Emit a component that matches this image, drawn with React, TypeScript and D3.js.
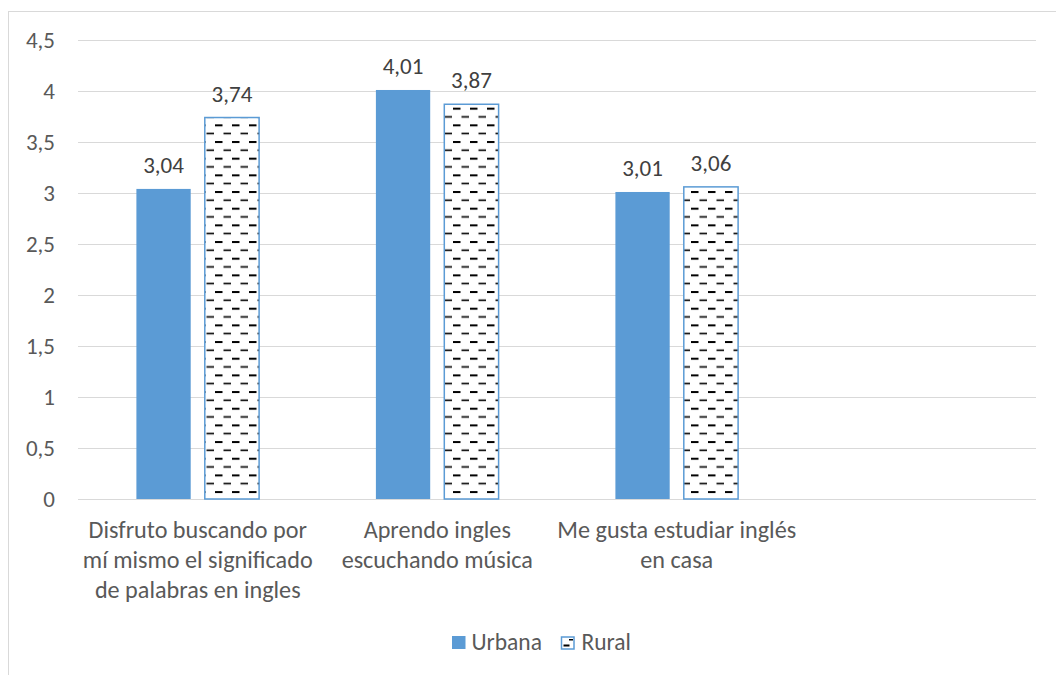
import { useRef, useEffect } from "react"
import * as d3 from "d3"

const categories = [
  ["Disfruto buscando por", "mí mismo el significado", "de palabras en ingles"],
  ["Aprendo ingles", "escuchando música"],
  ["Me gusta estudiar inglés", "en casa"],
  [""],
]
const urbana = [3.04, 4.01, 3.01, null]
const rural = [3.74, 3.87, 3.06, null]
const yTicks = [0, 0.5, 1, 1.5, 2, 2.5, 3, 3.5, 4, 4.5]

const FONT = "Carlito, Calibri, 'Liberation Sans', sans-serif"
const BLUE = "#5b9bd5"
const TEXT = "#595959"

export default function App() {
  const svgRef = useRef<SVGSVGElement>(null)

  useEffect(() => {
    if (!svgRef.current) return
    const root = d3.select(svgRef.current)
    root.selectAll("*").remove()

    const margin = { top: 40, left: 78 }
    const W = 1056
    const H = 675
    const plotW = 958
    const plotH = 459

    // pattern for Rural bars
    const defs = root.append("defs")
    const pat = defs
      .append("pattern")
      .attr("id", "dash")
      .attr("patternUnits", "userSpaceOnUse")
      .attr("width", 17)
      .attr("height", 16.67)
    pat.append("rect").attr("width", 17).attr("height", 16.67).attr("fill", "#fff")
    pat.append("rect").attr("x", 1).attr("y", 1).attr("width", 7.5).attr("height", 2).attr("fill", "#000")
    pat.append("rect").attr("x", 9.5).attr("y", 9.4).attr("width", 7.5).attr("height", 1.6).attr("fill", "#000")

    // chart border
    root
      .append("rect")
      .attr("x", 8.5)
      .attr("y", 11.5)
      .attr("width", W + 20)
      .attr("height", H + 20)
      .attr("fill", "#fff")
      .attr("stroke", "#d9d9d9")

    const svg = root.append("g").attr("transform", `translate(${margin.left},${margin.top})`)

    const x0 = d3
      .scaleBand()
      .domain(categories.map((_, i) => String(i)))
      .range([0, plotW])
    const groupW = 122.7
    const barW = 54.3
    const y = d3.scaleLinear().domain([0, 4.5]).range([plotH, 0])

    // gridlines
    svg
      .selectAll(".grid")
      .data(yTicks)
      .enter()
      .append("line")
      .attr("x1", 0)
      .attr("x2", plotW)
      .attr("y1", (d) => Math.round(y(d)) + 0.5)
      .attr("y2", (d) => Math.round(y(d)) + 0.5)
      .attr("stroke", "#d9d9d9")
      .attr("stroke-width", 1.2)

    // y labels
    svg
      .selectAll(".ytick")
      .data(yTicks)
      .enter()
      .append("text")
      .attr("x", -23)
      .attr("y", (d) => y(d))
      .attr("dy", "0.35em")
      .attr("text-anchor", "end")
      .attr("font-family", FONT)
      .attr("font-size", 23)
      .attr("fill", TEXT)
      .text((d) => String(d).replace(".", ","))

    const series = [
      { name: "Urbana", values: urbana, fill: BLUE, stroke: "none", off: 0 },
      { name: "Rural", values: rural, fill: "url(#dash)", stroke: BLUE, off: groupW - barW },
    ]

    series.forEach((s) => {
      const g = svg.append("g")
      const data = s.values
        .map((v, i) => ({ v, i }))
        .filter((d) => d.v !== null) as { v: number; i: number }[]
      const bx = (i: number) => (x0(String(i)) || 0) + (x0.bandwidth() - groupW) / 2 + s.off
      g.selectAll("rect")
        .data(data)
        .enter()
        .append("rect")
        .attr("x", (d) => bx(d.i))
        .attr("y", (d) => y(d.v))
        .attr("width", barW)
        .attr("height", (d) => plotH - y(d.v))
        .attr("fill", s.fill)
        .attr("stroke", s.stroke)
        .attr("stroke-width", 1.5)
      g.selectAll("text")
        .data(data)
        .enter()
        .append("text")
        .attr("x", (d) => bx(d.i) + barW / 2)
        .attr("y", (d) => y(d.v) - 16)
        .attr("text-anchor", "middle")
        .attr("font-family", FONT)
        .attr("font-size", 23)
        .attr("fill", "#404040")
        .text((d) => d.v.toFixed(2).replace(".", ","))
    })

    // category labels
    categories.forEach((lines, i) => {
      const t = svg
        .append("text")
        .attr("text-anchor", "middle")
        .attr("font-family", FONT)
        .attr("font-size", 24.2)
        .attr("fill", TEXT)
      lines.forEach((l, k) => {
        t.append("tspan")
          .attr("x", (x0(String(i)) || 0) + x0.bandwidth() / 2)
          .attr("y", plotH + 39 + k * 30)
          .text(l)
      })
    })

    // legend
    const leg = root.append("g").attr("transform", "translate(452,636)")
    leg.append("rect").attr("x", 0).attr("y", 0).attr("width", 13.5).attr("height", 13).attr("fill", BLUE)
    leg
      .append("text")
      .attr("x", 19.5)
      .attr("y", 13.5)
      .attr("font-family", FONT)
      .attr("font-size", 23.5)
      .attr("fill", TEXT)
      .text("Urbana")
    leg
      .append("rect")
      .attr("x", 109.5)
      .attr("y", 1)
      .attr("width", 12.5)
      .attr("height", 12)
      .attr("fill", "#fff")
      .attr("stroke", BLUE)
      .attr("stroke-width", 1.5)
    leg.append("rect").attr("x", 111.5).attr("y", 8.5).attr("width", 6).attr("height", 2).attr("fill", "#000")
    leg.append("rect").attr("x", 117).attr("y", 3).attr("width", 4).attr("height", 1.5).attr("fill", "#000")
    leg
      .append("text")
      .attr("x", 129.5)
      .attr("y", 13.5)
      .attr("font-family", FONT)
      .attr("font-size", 23.5)
      .attr("fill", TEXT)
      .text("Rural")
  }, [])

  return (
    <svg
      ref={svgRef}
      width={1056}
      height={675}
      style={{ position: "absolute", left: 0, top: 0, display: "block" }}
    />
  )
}
